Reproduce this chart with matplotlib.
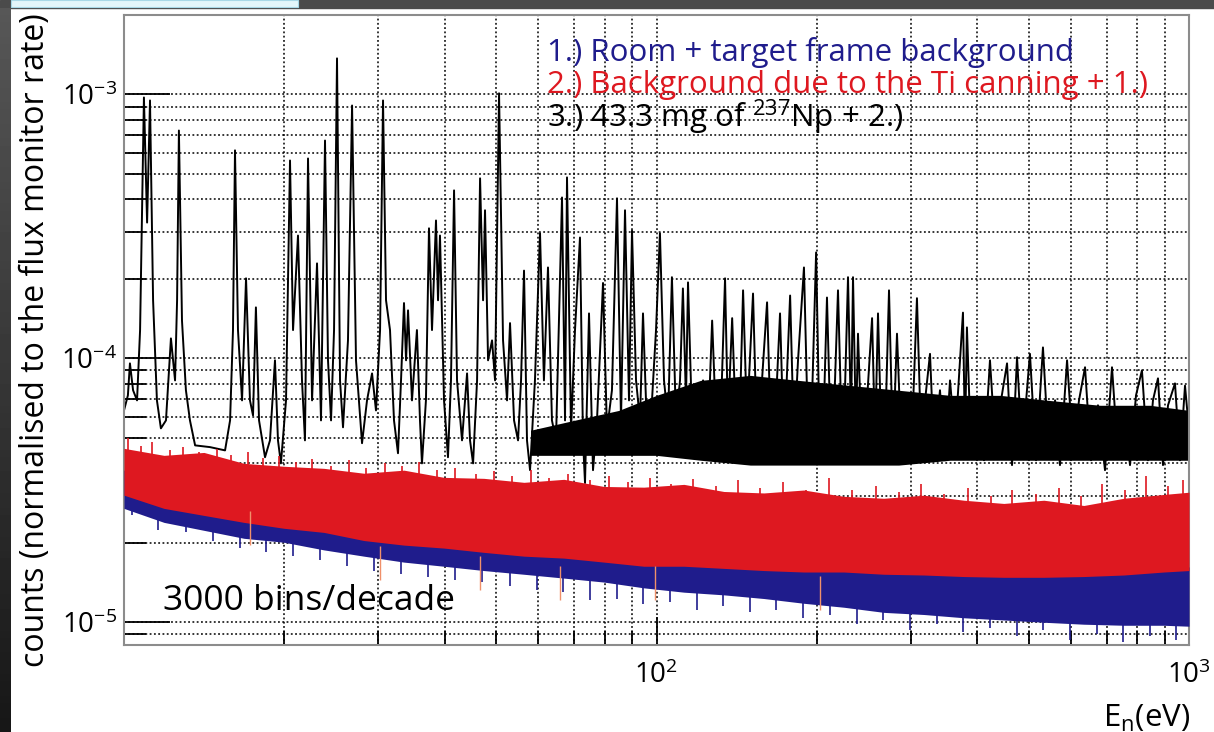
import numpy as np
import matplotlib
matplotlib.use("Agg")
import matplotlib.pyplot as plt
from matplotlib.patches import Rectangle
from matplotlib.ticker import FixedLocator, NullFormatter

plt.rcParams['font.family'] = ['Open Sans', 'DejaVu Sans']
plt.rcParams['mathtext.fontset'] = 'custom'
plt.rcParams['mathtext.rm'] = 'Open Sans'
plt.rcParams['mathtext.it'] = 'Open Sans'

## 3.) Np sample + canning + room background (read point by point)
black_E = [10.0, 10.17, 10.26, 10.40, 10.58, 10.72, 10.90, 11.05, 11.19, 11.34,
           11.53, 11.73, 11.99, 12.25, 12.47, 12.58, 12.68, 12.85, 13.07, 13.30,
           13.60, 14.50, 15.48, 15.82, 16.02, 16.16, 16.37, 16.66, 16.95, 17.24,
           17.47, 17.69, 17.93, 18.40, 18.80, 19.21, 19.46, 19.71, 20.15, 20.50,
           20.77, 21.22, 21.59, 21.87, 22.16, 22.55, 23.04, 23.44, 23.85, 24.16,
           24.48, 24.80, 25.12, 25.45, 25.78, 26.34, 26.81, 27.27, 27.99, 28.60,
           29.23, 29.73, 30.26, 30.65, 31.05, 31.59, 32.14, 32.70, 33.13, 33.56,
           33.86, 34.15, 34.74, 35.49, 35.96, 36.27, 36.90, 37.39, 37.88, 38.54,
           38.88, 39.21, 39.90, 40.59, 41.12, 41.67, 42.21, 43.13, 44.08, 44.65,
           45.24, 46.03, 46.63, 47.24, 47.64, 48.27, 49.11, 49.75, 50.62, 51.50,
           52.40, 53.08, 54.01, 54.95, 55.67, 56.39, 57.12, 57.88, 59.12, 60.43,
           61.46, 62.55, 63.63, 64.75, 66.46, 67.33, 67.91, 69.10, 70.30, 71.83,
           72.78, 73.41, 74.69, 75.99, 77.31, 79.35, 80.72, 82.48, 84.30, 85.77,
           87.27, 88.79, 89.95, 91.53, 93.11, 94.33, 95.98, 98.07, 99.79, 101.5,
           103.3, 105.1, 106.9, 108.8, 110.7, 112.1, 113.6, 114.6, 116.6, 119.2,
           122.3, 125.0, 127.2, 129.3, 131.6, 134.5, 136.2, 138.7, 141.1, 143.6,
           145.4, 147.9, 151.8, 154.4, 157.8, 161.3, 164.1, 167.7, 170.6, 173.5,
           178.2, 181.2, 184.4, 189.2, 192.5, 195.9, 199.4, 202.8, 206.4, 209.0,
           212.7, 216.4, 219.2, 223.0, 225.9, 228.9, 231.9, 233.9, 236.9, 239.0,
           243.1, 248.5, 254.0, 257.3, 260.6, 265.1, 269.8, 273.3, 278.0, 282.9,
           287.9, 294.2, 300.6, 308.4, 314.0, 319.4, 326.3, 332.0, 340.7, 348.2,
           355.8, 363.6, 376.3, 379.6, 382.8, 389.6, 401.6, 412.1, 422.9, 434.0,
           443.6, 455.3, 465.2, 475.4, 485.8, 502.7, 516.1, 531.8, 546.0, 560.4,
           572.4, 590.2, 605.7, 621.5, 637.9, 654.6, 674.6, 695.4, 716.8, 735.6,
           755.0, 774.8, 795.2, 815.9, 837.5, 855.7, 874.5, 893.6, 913.2, 941.2,
           961.9, 982.9, 1000.0]
black_y = [6.35e-5, 7.24e-5, 9.57e-5, 7.57e-5, 6.93e-5, 1.28e-4, 9.74e-4, 3.27e-4, 9.49e-4, 1.66e-4,
           6.93e-5, 5.43e-5, 5.82e-5, 1.19e-4, 8.25e-5, 1.66e-4, 7.30e-4, 1.39e-4, 7.57e-5, 5.82e-5,
           4.68e-5, 4.61e-5, 4.48e-5, 5.82e-5, 1.28e-4, 6.14e-4, 1.28e-4, 6.93e-5, 2.01e-4, 6.93e-5,
           6.08e-5, 1.56e-4, 5.82e-5, 4.22e-5, 4.89e-5, 9.83e-5, 4.89e-5, 4.00e-5, 6.93e-5, 5.62e-4,
           1.28e-4, 2.92e-4, 8.25e-5, 4.89e-5, 5.72e-4, 6.93e-5, 2.29e-4, 5.82e-5, 6.69e-4, 9.83e-5,
           5.82e-5, 1.28e-4, 1.37e-3, 8.25e-5, 5.48e-5, 1.17e-4, 9.08e-4, 9.83e-5, 4.77e-5, 6.93e-5,
           8.77e-5, 6.35e-5, 1.28e-4, 9.49e-4, 1.66e-4, 1.28e-4, 5.82e-5, 4.37e-5, 8.25e-5, 1.62e-4,
           9.83e-5, 1.52e-4, 6.93e-5, 1.28e-4, 5.82e-5, 4.00e-5, 6.93e-5, 3.11e-4, 1.28e-4, 3.33e-4,
           1.66e-4, 2.92e-4, 6.93e-5, 4.22e-5, 8.25e-5, 4.33e-4, 8.25e-5, 4.89e-5, 8.77e-5, 4.89e-5,
           4.00e-5, 8.25e-5, 4.81e-4, 1.66e-4, 3.64e-4, 9.83e-5, 1.17e-4, 8.25e-5, 1.01e-3, 1.17e-4,
           6.93e-5, 1.36e-4, 5.82e-5, 4.89e-5, 8.25e-5, 2.15e-4, 4.89e-5, 3.77e-5, 8.25e-5, 2.98e-4,
           8.25e-5, 2.21e-4, 5.82e-5, 4.89e-5, 4.07e-4, 5.82e-5, 4.85e-4, 5.34e-5, 1.28e-4, 2.87e-4,
           4.89e-5, 3.37e-5, 1.48e-4, 3.77e-5, 5.82e-5, 1.93e-4, 5.34e-5, 7.57e-5, 4.04e-4, 5.82e-5,
           3.64e-4, 6.93e-5, 3.05e-4, 8.25e-5, 5.82e-5, 1.48e-4, 5.34e-5, 6.93e-5, 1.28e-4, 2.98e-4,
           8.25e-5, 5.82e-5, 2.03e-4, 5.82e-5, 8.25e-5, 1.84e-4, 6.93e-5, 1.94e-4, 5.82e-5, 4.89e-5,
           8.25e-5, 5.34e-5, 1.39e-4, 5.82e-5, 4.89e-5, 2.01e-4, 5.82e-5, 1.42e-4, 5.34e-5, 6.93e-5,
           1.81e-4, 5.82e-5, 1.76e-4, 4.89e-5, 8.25e-5, 1.63e-4, 4.89e-5, 6.93e-5, 1.48e-4, 4.48e-5,
           1.73e-4, 4.89e-5, 9.83e-5, 2.21e-4, 5.34e-5, 6.93e-5, 2.52e-4, 4.11e-5, 6.93e-5, 1.70e-4,
           4.48e-5, 8.25e-5, 1.81e-4, 4.89e-5, 7.57e-5, 2.03e-4, 5.82e-5, 2.03e-4, 5.34e-5, 1.24e-4,
           4.48e-5, 6.93e-5, 1.42e-4, 4.89e-5, 1.48e-4, 4.11e-5, 6.93e-5, 1.81e-4, 4.48e-5, 1.24e-4,
           4.89e-5, 6.93e-5, 4.11e-5, 1.69e-4, 4.89e-5, 6.93e-5, 1.04e-4, 4.48e-5, 7.57e-5, 4.11e-5,
           8.25e-5, 4.89e-5, 1.49e-4, 4.89e-5, 1.31e-4, 4.48e-5, 6.93e-5, 4.11e-5, 9.83e-5, 4.29e-5,
           6.93e-5, 9.57e-5, 3.94e-5, 1.01e-4, 4.48e-5, 1.04e-4, 4.11e-5, 1.10e-4, 4.29e-5, 6.93e-5,
           3.94e-5, 9.83e-5, 4.48e-5, 6.93e-5, 9.25e-5, 4.11e-5, 6.64e-5, 3.77e-5, 9.25e-5, 4.29e-5,
           6.35e-5, 3.94e-5, 7.24e-5, 9.01e-5, 4.11e-5, 6.93e-5, 8.40e-5, 3.94e-5, 6.64e-5, 8.04e-5,
           4.11e-5, 7.88e-5, 5.34e-5]

## dense part of the black spectrum above ~60 eV
black_band_E = [58, 70, 85, 100, 121, 150, 185, 230, 285, 356, 442, 545, 681, 845, 1000]
black_band_hi = [5.34e-5, 5.82e-5, 6.35e-5, 7.24e-5, 8.25e-5, 8.62e-5, 8.25e-5, 7.90e-5,
                 7.57e-5, 7.24e-5, 7.24e-5, 6.93e-5, 6.64e-5, 6.64e-5, 6.35e-5]
black_band_lo = [4.29e-5, 4.29e-5, 4.29e-5, 4.29e-5, 4.11e-5, 3.94e-5, 3.94e-5, 3.94e-5,
                 3.94e-5, 4.11e-5, 4.11e-5, 4.11e-5, 4.11e-5, 4.11e-5, 4.11e-5]

## 1.) room + frame (blue) and 2.) Ti canning (red): core of the noisy bands
band_E = [10.0, 11.89, 14.13, 16.80, 19.97, 23.74, 28.22, 33.55, 39.89, 47.42,
          56.37, 67.01, 79.66, 94.70, 112.6, 133.8, 159.1, 189.1, 224.8, 267.3,
          317.7, 377.7, 449.0, 533.8, 634.6, 754.4, 896.8, 1000]
red_hi = [4.56e-5, 4.29e-5, 4.40e-5, 4.00e-5, 3.90e-5, 3.83e-5, 3.67e-5, 3.77e-5, 3.54e-5, 3.51e-5,
          3.39e-5, 3.48e-5, 3.27e-5, 3.25e-5, 3.33e-5, 3.13e-5, 3.09e-5, 3.17e-5, 3.00e-5, 2.95e-5,
          3.03e-5, 2.90e-5, 2.82e-5, 2.90e-5, 2.77e-5, 2.95e-5, 3.05e-5, 3.11e-5]
red_lo = [3.03e-5, 2.70e-5, 2.54e-5, 2.39e-5, 2.27e-5, 2.19e-5, 2.04e-5, 1.96e-5, 1.91e-5, 1.84e-5,
          1.78e-5, 1.75e-5, 1.69e-5, 1.63e-5, 1.63e-5, 1.60e-5, 1.57e-5, 1.55e-5, 1.55e-5, 1.52e-5,
          1.51e-5, 1.49e-5, 1.48e-5, 1.48e-5, 1.49e-5, 1.51e-5, 1.55e-5, 1.57e-5]
blue_hi = [3.77e-5, 3.45e-5, 3.17e-5, 2.95e-5, 2.77e-5, 2.61e-5, 2.43e-5, 2.31e-5, 2.19e-5, 2.08e-5,
           2.00e-5, 1.91e-5, 1.84e-5, 1.78e-5, 1.75e-5, 1.72e-5, 1.69e-5, 1.66e-5, 1.63e-5, 1.62e-5,
           1.60e-5, 1.59e-5, 1.57e-5, 1.57e-5, 1.57e-5, 1.59e-5, 1.60e-5, 1.62e-5]
blue_lo = [2.70e-5, 2.39e-5, 2.23e-5, 2.08e-5, 2.01e-5, 1.88e-5, 1.78e-5, 1.69e-5, 1.63e-5, 1.57e-5,
           1.52e-5, 1.47e-5, 1.42e-5, 1.35e-5, 1.30e-5, 1.27e-5, 1.23e-5, 1.18e-5, 1.14e-5, 1.09e-5,
           1.07e-5, 1.04e-5, 1.02e-5, 1.00e-5, 9.83e-6, 9.74e-6, 9.74e-6, 9.66e-6]

## single fluctuations sticking out of the bands (tips)
red_tip_E = [10.17, 10.76, 11.29, 12.20, 12.90, 13.83, 14.95, 15.88, 17.10, 18.24,
             19.54, 21.04, 22.55, 24.48, 26.46, 28.48, 30.91, 33.27, 35.81, 38.71,
             41.84, 45.81, 49.52, 53.53, 58.10, 62.81, 68.22, 75.04, 81.43, 88.41,
             97.23, 106.5, 117.1, 129.3, 142.2, 156.5, 172.8, 190.9, 210.9, 232.9,
             258.4, 285.4, 313.8, 346.7, 384.6, 424.8, 465.3, 516.1, 570.1, 626.9,
             686.5, 758.3, 830.4, 913.3, 974.3]
red_tip_y = [4.98e-5, 4.64e-5, 4.80e-5, 4.48e-5, 4.61e-5, 4.40e-5, 4.52e-5, 4.29e-5, 4.40e-5, 4.18e-5,
             4.25e-5, 4.04e-5, 4.14e-5, 3.90e-5, 4.11e-5, 3.83e-5, 4.00e-5, 3.90e-5, 4.04e-5, 3.77e-5,
             3.83e-5, 3.64e-5, 3.73e-5, 3.58e-5, 3.77e-5, 3.51e-5, 3.64e-5, 3.45e-5, 3.58e-5, 3.39e-5,
             3.51e-5, 3.33e-5, 3.48e-5, 3.27e-5, 3.45e-5, 3.22e-5, 3.39e-5, 3.17e-5, 3.51e-5, 3.17e-5,
             3.27e-5, 3.11e-5, 3.33e-5, 3.05e-5, 3.22e-5, 3.00e-5, 3.17e-5, 3.05e-5, 3.22e-5, 3.00e-5,
             3.33e-5, 3.17e-5, 3.58e-5, 3.27e-5, 3.45e-5]
blue_tip_E = [10.35, 11.59, 13.08, 14.69, 16.52, 18.48, 20.77, 23.34, 26.23, 29.48,
              33.12, 37.23, 41.84, 47.02, 53.08, 59.66, 66.76, 75.04, 84.32, 94.32,
              106.0, 119.2, 133.3, 149.8, 167.7, 188.4, 211.8, 238.0, 266.4, 299.4,
              336.4, 376.3, 422.9, 475.3, 531.8, 597.8, 671.9, 751.7, 845.2, 945.4]
blue_tip_y = [2.54e-5, 2.23e-5, 2.19e-5, 2.04e-5, 1.91e-5, 1.84e-5, 1.79e-5, 1.72e-5, 1.63e-5, 1.57e-5,
              1.52e-5, 1.49e-5, 1.44e-5, 1.42e-5, 1.37e-5, 1.32e-5, 1.30e-5, 1.21e-5, 1.23e-5, 1.17e-5,
              1.19e-5, 1.11e-5, 1.15e-5, 1.09e-5, 1.11e-5, 1.04e-5, 1.07e-5, 9.83e-6, 1.02e-5, 9.33e-6,
              9.83e-6, 9.17e-6, 9.49e-6, 8.85e-6, 9.33e-6, 8.55e-6, 9.01e-6, 8.40e-6, 8.85e-6, 8.55e-6]
salmon_tip_E = [17.24, 30.26, 46.6, 65.9, 99.4, 202.8]
salmon_tip_y = [1.96e-5, 1.44e-5, 1.32e-5, 1.21e-5, 1.21e-5, 1.11e-5]

legend_texts = ['1.) Room + target frame background',
                '2.) Background due to the Ti canning + 1.)',
                '3.) 43.3 mg of $^{237}$Np + 2.)']

BLUE = '#1f1c8c'
RED = '#de1820'
SPIKE = 1.25   # length of a drawn tip (factor in y)


def main():

    fig = plt.figure(figsize=(12.14, 7.32), dpi=100)
    W, H = 1214.0, 732.0

    ## page decoration (dark frame of the slide)
    fig.add_artist(Rectangle((0, 1 - 8 / H), 1, 8 / H, transform=fig.transFigure,
                             color='#4b4b4b', zorder=0))
    fig.add_artist(Rectangle((11 / W, 1 - 7 / H), 287 / W, 7 / H, transform=fig.transFigure,
                             facecolor='#e4f6fa', edgecolor='#a9d8e6', lw=0.8, zorder=1))
    gax = fig.add_axes([0, 0, 11 / W, 1 - 8 / H])
    gax.imshow(np.linspace(0.34, 0.09, 100).reshape(-1, 1), cmap='gray', vmin=0, vmax=1,
               aspect='auto', extent=[0, 1, 0, 1])
    gax.axis('off')

    ax = fig.add_axes([124 / W, 1 - 645 / H, 1065 / W, 630 / H])
    ax.set_xscale('log')
    ax.set_yscale('log')

    ## spectra
    ax.plot(black_E, black_y, color='black', lw=1.4, zorder=2)
    ax.fill_between(black_band_E, black_band_lo, black_band_hi, color='black', lw=0, zorder=2)

    ax.fill_between(band_E, blue_lo, blue_hi, color=BLUE, lw=0, zorder=3)
    bt = np.array(blue_tip_y)
    ax.vlines(blue_tip_E, bt, bt * SPIKE, color=BLUE, lw=1.2, zorder=3)

    ax.fill_between(band_E, red_lo, red_hi, color=RED, lw=0, zorder=4)
    rt = np.array(red_tip_y)
    ax.vlines(red_tip_E, rt / SPIKE, rt, color=RED, lw=1.2, zorder=4)
    st = np.array(salmon_tip_y)
    ax.vlines(salmon_tip_E, st, st * 1.35, color='#f0906a', lw=1.0, zorder=4)

    ax.set_xlim(10, 1000)
    ax.set_ylim(8.2e-6, 2.0e-3)

    ## grid + ticks in ROOT style
    ax.set_axisbelow(True)
    ax.grid(True, which='both', color='black', ls=(0, (1.2, 1.6)), lw=1.1)
    ax.xaxis.set_minor_locator(FixedLocator([20, 30, 40, 50, 60, 70, 80, 90,
                                             200, 300, 400, 500, 600, 700, 800, 900]))
    ax.set_xticks([10, 100, 1000])
    ax.set_xticklabels(['', '$10^{2}$', '$10^{3}$'], fontsize=20)
    ax.xaxis.set_minor_formatter(NullFormatter())
    ax.set_yticks([1e-5, 1e-4, 1e-3])
    ax.set_yticklabels(['$10^{-5}$', '$10^{-4}$', '$10^{-3}$'], fontsize=20)
    ax.yaxis.set_minor_formatter(NullFormatter())
    ax.tick_params(axis='both', which='both', direction='in', color='black', width=1.3,
                   top=False, right=False)
    ax.tick_params(axis='y', which='major', length=33, pad=5)
    ax.tick_params(axis='y', which='minor', length=16)
    ax.tick_params(axis='x', which='major', length=20, pad=12)
    ax.tick_params(axis='x', which='minor', length=10)
    for s in ax.spines.values():
        s.set_color('#8c8c8c')
        s.set_linewidth(1.5)

    ## legend texts
    colors = [BLUE, RED, 'black']
    ys = [0.927, 0.876, 0.822]
    for t, c, y in zip(legend_texts, colors, ys):
        ax.text(0.397, y, t, transform=ax.transAxes, color=c, fontsize=22.5,
                va='baseline', ha='left', zorder=6)
    ax.text(0.037, 0.056, '3000 bins/decade', transform=ax.transAxes, fontsize=25.5,
            va='baseline', ha='left', zorder=6)

    fig.text(36 / W, 1 - 340 / H, 'counts (normalised to the flux monitor rate)',
             rotation=90, fontsize=23, ha='center', va='center')
    fig.text(1190 / W, 1 - 727 / H, 'E$_{\\mathregular{n}}$(eV)', fontsize=22.5,
             ha='right', va='baseline')

    fig.savefig('out.png', dpi=100)


if __name__ == '__main__':

    main()
